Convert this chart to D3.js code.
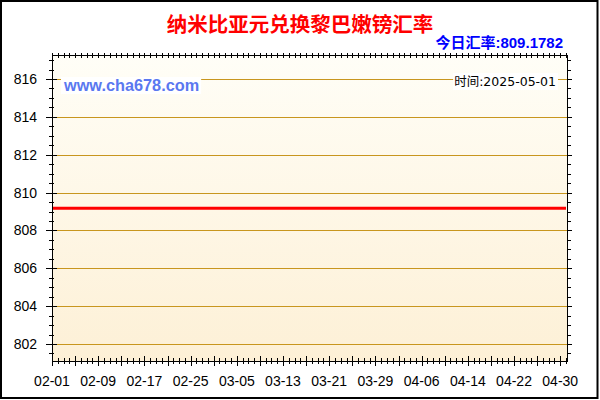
<!DOCTYPE html>
<html><head><meta charset="utf-8">
<script src="https://cdn.jsdelivr.net/npm/d3@7"></script>
<style>html,body{margin:0;padding:0;background:#fff;}svg{display:block;}</style>
</head><body>
<svg id="c" width="600" height="400"></svg>
<script>
const title = "纳米比亚元兑换黎巴嫩镑汇率";
const rateLabel = "今日汇率:809.1782";
const timeLabel = "时间:2025-05-01";
const watermark = "www.cha678.com";
const dates = ["2025-02-01","2025-02-09","2025-02-17","2025-02-25","2025-03-05","2025-03-13","2025-03-21","2025-03-29","2025-04-06","2025-04-14","2025-04-22","2025-04-30","2025-05-01"];
const values = [809.1782,809.1782,809.1782,809.1782,809.1782,809.1782,809.1782,809.1782,809.1782,809.1782,809.1782,809.1782,809.1782];
const xTickLabels = ["02-01","02-09","02-17","02-25","03-05","03-13","03-21","03-29","04-06","04-14","04-22","04-30"];
const yTicks = [802,804,806,808,810,812,814,816];

const parse = d3.timeParse("%Y-%m-%d");
const svg = d3.select("#c");
const L = 52, R = 567.5, T = 55, B = 361;

const x = d3.scaleTime().domain([parse("2025-02-01"), parse("2025-05-01")]).range([L, R - 1.5]);
const y = d3.scaleLinear().domain([801.1, 817.27]).range([B, T]);

// outer border
svg.append("rect").attr("x",1).attr("y",1).attr("width",596.5).attr("height",397)
  .attr("fill","#fff").attr("stroke","#000").attr("stroke-width",2);

// plot background gradient
const defs = svg.append("defs");
const g = defs.append("linearGradient").attr("id","bg").attr("x1",0).attr("y1",0).attr("x2",0).attr("y2",1);
g.append("stop").attr("offset","0%").attr("stop-color","#fffef7");
g.append("stop").attr("offset","100%").attr("stop-color","#fdf0d6");
svg.append("rect").attr("x",L).attr("y",T).attr("width",R-L).attr("height",B-T).attr("fill","url(#bg)");

// gridlines
svg.append("g").selectAll("line").data(yTicks).join("line")
  .attr("x1",L).attr("x2",R).attr("y1",d=>Math.round(y(d))+0.5).attr("y2",d=>Math.round(y(d))+0.5)
  .attr("stroke","#c8961e").attr("stroke-width",1);

// title
svg.append("text").attr("x",300).attr("y",32).attr("text-anchor","middle")
  .attr("font-family","'Noto Sans CJK SC', sans-serif").attr("font-weight","bold")
  .attr("font-size",20.5).attr("fill","#ff0000").text(title);
svg.append("text").attr("x",563).attr("y",48).attr("text-anchor","end")
  .attr("font-family","'Liberation Sans','Noto Sans CJK SC', sans-serif").attr("font-weight","bold")
  .attr("font-size",15).attr("fill","#0000ff").text(rateLabel);

// watermark with white box
const wm = svg.append("text").attr("x",64).attr("y",91)
  .attr("font-family","'Liberation Sans', Arial, sans-serif").attr("font-weight","bold")
  .attr("font-size",16.3).attr("fill","#5a78f0").text(watermark);
const wb = wm.node().getBBox();
svg.insert("rect", () => wm.node()).attr("x",wb.x-2).attr("y",77).attr("width",wb.width+4).attr("height",17).attr("fill","#fff");

const tl = svg.append("text").attr("x",556).attr("y",86).attr("text-anchor","end")
  .attr("font-family","'DejaVu Sans','Noto Sans CJK SC', sans-serif")
  .attr("font-size",12.5).attr("fill","#000").text(timeLabel);
const tb = tl.node().getBBox();
svg.insert("rect", () => tl.node()).attr("x",tb.x-1).attr("y",73).attr("width",tb.width+3).attr("height",17).attr("fill","#fff");

// data line
const pts = dates.map((d,i)=>({d:parse(d), v:values[i]}));
svg.append("path").datum(pts)
  .attr("d", d3.line().x(p=>x(p.d)).y(p=>y(p.v)))
  .attr("fill","none").attr("stroke","#ff0000").attr("stroke-width",3);

// axes frame
const ax = svg.append("g").attr("stroke","#000").attr("stroke-width",1).attr("shape-rendering","crispEdges");
ax.append("rect").attr("x",L+0.5).attr("y",T+0.5).attr("width",R-L-0.5).attr("height",B-T).attr("fill","none");

// y ticks (left & right)
const yMinor = d3.range(801.5, 817.01, 0.5);
yMinor.forEach(v=>{
  const yy = Math.round(y(v))+0.5;
  const major = Math.abs(v - Math.round(v)) < 1e-6 && Math.round(v) % 2 === 0;
  ax.append("line").attr("x1", major? L-6 : L-3).attr("x2", major? L+5 : L+2).attr("y1",yy).attr("y2",yy);
  ax.append("line").attr("x1", R).attr("x2", major? R+4 : R+3).attr("y1",yy).attr("y2",yy);
});

// x ticks (daily minor, 4-day major) bottom and top
const days = d3.timeDay.range(parse("2025-02-01"), d3.timeDay.offset(parse("2025-05-01"),1));
days.forEach((d,i)=>{
  const xx = Math.round(x(d))+0.5;
  const major = i % 4 === 0;
  ax.append("line").attr("x1",xx).attr("x2",xx).attr("y1", major? B-5 : B-3).attr("y2", major? B+5 : B+3);
  ax.append("line").attr("x1",xx).attr("x2",xx).attr("y1",T-2).attr("y2",T+3);
});

// y labels
svg.append("g").selectAll("text").data(yTicks).join("text")
  .attr("x",37).attr("y",d=>y(d)+5).attr("text-anchor","end")
  .attr("font-family","'Liberation Sans', Arial, sans-serif").attr("font-size",14).attr("fill","#000")
  .text(d=>d);

// x labels
svg.append("g").selectAll("text").data(xTickLabels).join("text")
  .attr("x",d=>x(parse("2025-"+d))).attr("y",386).attr("text-anchor","middle")
  .attr("font-family","'Liberation Sans', Arial, sans-serif").attr("font-size",14).attr("fill","#000")
  .text(d=>d);
</script>
</body></html>
